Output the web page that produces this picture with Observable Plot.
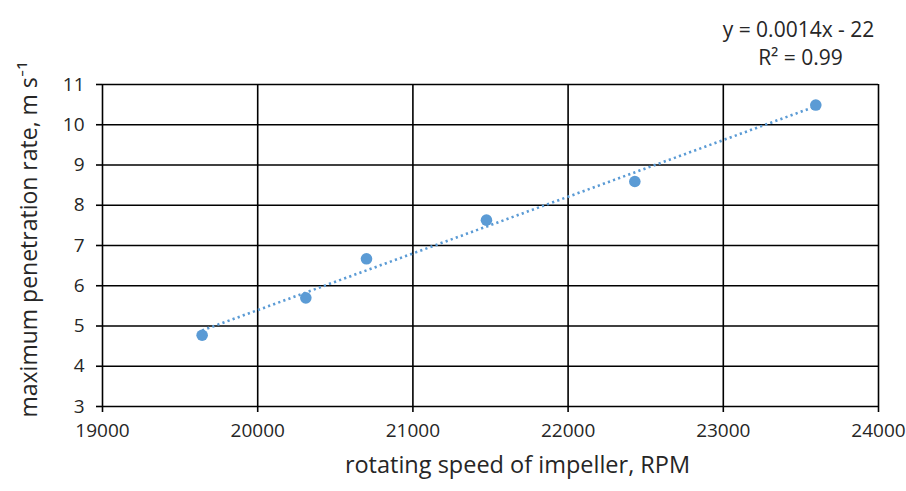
<!DOCTYPE html>
<html>
<head>
<meta charset="utf-8">
<script src="https://cdn.jsdelivr.net/npm/d3@7"></script>
<script src="https://cdn.jsdelivr.net/npm/@observablehq/plot@0.6"></script>
<style>
  html, body { margin: 0; padding: 0; background: #fff; }
  #chart { width: 906px; height: 491px; }
</style>
</head>
<body>
<div id="chart"></div>
<script>
// Data
const rpm = [19642, 20310, 20701, 21474, 22430, 23596];
const rate = [4.77, 5.70, 6.67, 7.63, 8.59, 10.49];
const xTicks = [19000, 20000, 21000, 22000, 23000, 24000];
const yTicks = [3, 4, 5, 6, 7, 8, 9, 10, 11];
const equationLines = ["y = 0.0014x - 22", "R² = 0.99"];
const xLabel = "rotating speed of impeller, RPM";
const yLabel = "maximum penetration rate, m s⁻¹";

const points = rpm.map((x, i) => ({x, y: rate[i]}));
const blue = "#5B9BD5";
const font = "'Open Sans', Lato, sans-serif";
const ink = "#262626";

const chart = Plot.plot({
  width: 906,
  height: 491,
  marginLeft: 102,
  marginRight: 28,
  marginTop: 84,
  marginBottom: 85,
  style: {fontFamily: font, fontSize: "19px", color: ink, background: "#fff"},
  x: {domain: [19000, 24000]},
  y: {domain: [3, 11]},
  marks: [
    Plot.gridX(xTicks, {stroke: "#000", strokeOpacity: 1, strokeWidth: 1.6}),
    Plot.gridY(yTicks, {stroke: "#000", strokeOpacity: 1, strokeWidth: 1.6}),
    Plot.axisX(xTicks, {tickSize: 6, tickPadding: 11, tickFormat: d => String(d), stroke: "#000", strokeWidth: 1.6,
      label: null, fontSize: 19, fill: ink}),
    Plot.axisY(yTicks, {tickSize: 6, tickPadding: 12, stroke: "#000", strokeWidth: 1.6,
      label: null, fontSize: 19, fill: ink}),
    Plot.linearRegressionY(points, {x: "x", y: "y", ci: 0, stroke: blue, strokeWidth: 2.6, strokeDasharray: "2.2,3.2", strokeLinecap: "butt"}),
    Plot.dot(points, {x: "x", y: "y", r: 5.8, fill: blue, stroke: "none"}),
    // axis titles
    Plot.text([xLabel], {text: d => d, frameAnchor: "bottom", dx: 27, dy: 66, fontSize: 23.5, fill: ink, textAnchor: "middle"}),
    Plot.text([yLabel], {text: d => d, frameAnchor: "left", dx: -73, dy: -6, rotate: -90, fontSize: 23, fill: ink, textAnchor: "middle"}),
    // regression equation
    Plot.text([equationLines[0]], {text: d => d, frameAnchor: "top-right", dx: -80, dy: -62, fontSize: 21, fill: ink, textAnchor: "middle"}),
    Plot.text([equationLines[1]], {text: d => d, frameAnchor: "top-right", dx: -78, dy: -34, fontSize: 21, fill: ink, textAnchor: "middle"})
  ]
});
document.getElementById("chart").appendChild(chart);
</script>
</body>
</html>
